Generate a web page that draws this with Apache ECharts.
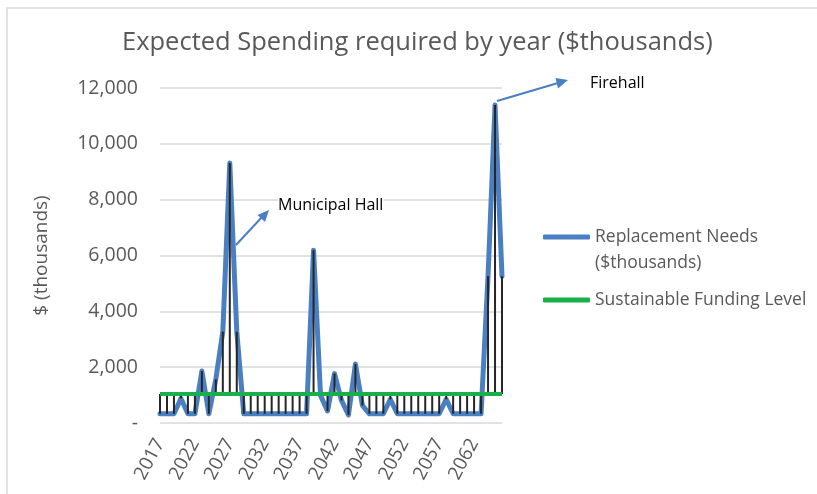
<!DOCTYPE html>
<html>
<head>
<meta charset="utf-8">
<style>
  html, body { margin: 0; padding: 0; background: #fff; }
  #main { width: 817px; height: 494px; }
</style>
<script src="https://cdn.jsdelivr.net/npm/echarts@6/dist/echarts.min.js"></script>
</head>
<body>
<div id="main"></div>
<script>
// Expected spending by year - replacement needs vs sustainable funding
var years = ['2017','2018','2019','2020','2021','2022','2023','2024','2025','2026',
             '2027','2028','2029','2030','2031','2032','2033','2034','2035','2036',
             '2037','2038','2039','2040','2041','2042','2043','2044','2045','2046',
             '2047','2048','2049','2050','2051','2052','2053','2054','2055','2056',
             '2057','2058','2059','2060','2061','2062','2063','2064','2065','2066'];
var replacementNeeds = [330, 330, 330, 880, 330, 330, 1860, 330, 1570, 3270,
                        9310, 3270, 330, 330, 330, 330, 330, 330, 330, 330,
                        330, 330, 6190, 990, 430, 1770, 810, 290, 2110, 630,
                        330, 330, 330, 850, 330, 330, 330, 330, 330, 330,
                        330, 850, 330, 330, 330, 330, 330, 5260, 11390, 5260];
var fundingLevel = [1040, 1040, 1040, 1040, 1040, 1040, 1040, 1040, 1040, 1040,
                    1040, 1040, 1040, 1040, 1040, 1040, 1040, 1040, 1040, 1040,
                    1040, 1040, 1040, 1040, 1040, 1040, 1040, 1040, 1040, 1040,
                    1040, 1040, 1040, 1040, 1040, 1040, 1040, 1040, 1040, 1040,
                    1040, 1040, 1040, 1040, 1040, 1040, 1040, 1040, 1040, 1040];

var blueName = 'Replacement Needs ($thousands)';
var greenName = 'Sustainable Funding Level';
var font = 'Open Sans';

// high-low lines between the two series
var dropData = years.map(function (y, i) {
    return [i, replacementNeeds[i], fundingLevel[i]];
});

var chart = echarts.init(document.getElementById('main'));
var option = {
    animation: false,
    title: {
        text: 'Expected Spending required by year ($thousands)',
        left: 122,
        top: 30,
        padding: 0,
        textStyle: {
            fontFamily: font,
            fontSize: 25.5,
            fontWeight: 'normal',
            color: '#595959'
        }
    },
    legend: [
        {
            data: [blueName],
            left: 543,
            top: 198,
            padding: 0,
            icon: 'roundRect',
            itemWidth: 47,
            itemHeight: 5,
            // empty first line keeps the icon level with the first text line
            formatter: function () { return '\nReplacement Needs\n($thousands)'; },
            textStyle: {
                fontFamily: font,
                fontSize: 17.5,
                lineHeight: 26,
                color: '#595959'
            }
        },
        {
            data: [greenName],
            left: 543,
            top: 287,
            padding: 0,
            icon: 'roundRect',
            itemWidth: 47,
            itemHeight: 5,
            textStyle: {
                fontFamily: font,
                fontSize: 17.5,
                lineHeight: 26,
                color: '#595959'
            }
        }
    ],
    grid: {
        left: 160,
        top: 88,
        width: 342,
        height: 335
    },
    xAxis: {
        type: 'category',
        boundaryGap: false,
        data: years,
        axisLine: { show: false },
        axisTick: { show: false },
        axisLabel: {
            interval: 4,
            rotate: 62,
            margin: 17,
            fontFamily: font,
            fontSize: 19,
            color: '#595959'
        }
    },
    yAxis: {
        type: 'value',
        min: 0,
        max: 12000,
        interval: 2000,
        name: '$ (thousands)',
        nameLocation: 'middle',
        nameRotate: 90,
        nameGap: 109,
        nameTextStyle: {
            fontFamily: font,
            fontSize: 19,
            color: '#595959'
        },
        axisLine: { show: false },
        axisTick: { show: false },
        axisLabel: {
            margin: 22,
            fontFamily: font,
            fontSize: 19.5,
            color: '#595959',
            formatter: function (v) {
                return v === 0 ? '-' : v.toLocaleString('en-US');
            }
        },
        splitLine: { lineStyle: { color: '#d9d9d9', width: 1.5 } }
    },
    series: [
        {
            name: blueName,
            type: 'line',
            data: replacementNeeds,
            symbol: 'none',
            color: '#4a7fc1',
            lineStyle: { width: 5, color: '#4a7fc1', join: 'round', cap: 'round' },
            z: 2
        },
        {
            name: 'drop',
            type: 'custom',
            data: dropData,
            encode: { x: 0, y: [1, 2] },
            renderItem: function (params, api) {
                var a = api.coord([api.value(0), api.value(1)]);
                var b = api.coord([api.value(0), api.value(2)]);
                return {
                    type: 'line',
                    shape: { x1: a[0], y1: a[1], x2: b[0], y2: b[1] },
                    style: { stroke: '#262626', lineWidth: 2 }
                };
            },
            z: 3
        },
        {
            name: greenName,
            type: 'line',
            data: fundingLevel,
            symbol: 'none',
            color: '#17b04b',
            lineStyle: { width: 4, color: '#17b04b' },
            z: 4
        }
    ],
    graphic: [
        {
            type: 'rect',
            shape: { x: 7, y: 8, width: 820, height: 500 },
            style: { fill: null, stroke: '#d9d9d9', lineWidth: 1.5 },
            silent: true
        },
        // Municipal Hall callout
        {
            type: 'line',
            shape: { x1: 236, y1: 245, x2: 262, y2: 217 },
            style: { stroke: '#4a7fc1', lineWidth: 2 }
        },
        {
            type: 'polygon',
            shape: { points: [[269, 210], [265, 222], [257.5, 215]] },
            style: { fill: '#4a7fc1' }
        },
        {
            type: 'text',
            left: 278,
            top: 197,
            z: 10,
            style: {
                text: 'Municipal Hall', fontFamily: font, fontSize: 16, fill: '#000',
                backgroundColor: '#fff'
            }
        },
        // Firehall callout
        {
            type: 'line',
            shape: { x1: 497, y1: 101, x2: 558, y2: 83 },
            style: { stroke: '#4a7fc1', lineWidth: 2 }
        },
        {
            type: 'polygon',
            shape: { points: [[568, 80], [558, 88.5], [555.5, 78]] },
            style: { fill: '#4a7fc1' }
        },
        {
            type: 'text',
            left: 590,
            top: 75,
            style: { text: 'Firehall', fontFamily: font, fontSize: 16, fill: '#000' }
        }
    ]
};
chart.setOption(option);
</script>
</body>
</html>
